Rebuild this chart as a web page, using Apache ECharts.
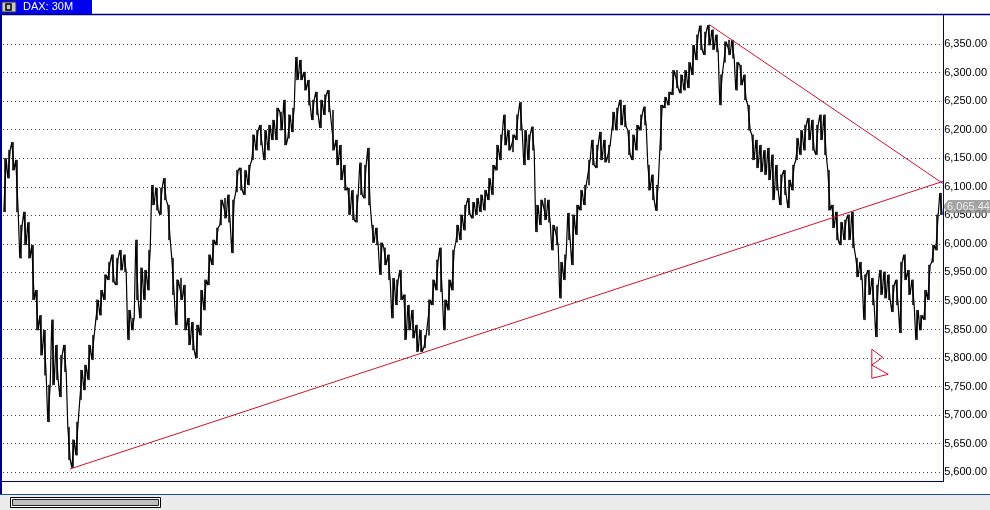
<!DOCTYPE html>
<html><head><meta charset="utf-8">
<script src="https://cdn.jsdelivr.net/npm/echarts@6/dist/echarts.min.js"></script>
<style>html,body{margin:0;padding:0;background:#fff}#c{width:990px;height:510px}</style>
</head><body><div id="c"></div>
<script>
const chartTitle = 'DAX: 30M';
const highs = [6150,6164,6178,6147,6033,6056,6038,5998,5919,5875,5849,5753,5867,5823,5805,5823,5679,5657,5688,5779,
5788,5823,5840,5902,5919,5946,5968,5981,5975,5989,5981,5884,5870,6007,5958,5954,5989,6103,6098,6098,
6115,6068,5975,5937,5940,5928,5870,5863,5858,5919,5937,5981,6007,6028,6077,6080,6086,6077,6129,6133,
6129,6138,6191,6199,6208,6199,6208,6217,6238,6231,6252,6226,6238,6327,6322,6301,6287,6252,6266,6252,
6261,6269,6234,6182,6173,6138,6098,6094,6086,6142,6138,6168,6033,6028,6002,5993,5981,5940,5937,5954,
5911,5893,5884,5858,5849,5840,5902,5937,5972,5993,5902,5937,5989,6033,6051,6068,6080,6073,6080,6086,
6094,6115,6138,6173,6191,6226,6199,6191,6226,6248,6199,6191,6205,6068,6077,6080,6077,6033,6030,5968,
5981,6054,6051,6068,6094,6103,6147,6182,6173,6196,6182,6173,6231,6238,6252,6243,6199,6191,6208,6226,
6240,6138,6121,6103,6243,6257,6266,6304,6304,6296,6304,6318,6348,6366,6382,6371,6383,6375,6366,6296,
6354,6357,6357,6318,6313,6296,6243,6191,6182,6173,6164,6168,6156,6138,6121,6129,6112,6138,6185,6199,
6208,6220,6217,6208,6226,6226,6129,6068,6056,6038,6042,6051,6056,5975,5968,5946,5954,5940,5928,5954,
5951,5946,5928,5937,5968,5981,5954,5937,5884,5875,5919,5963,5998,6051,6089];
const lows = [6056,6115,6129,6056,5975,5998,5975,5902,5849,5805,5770,5688,5753,5762,5732,5776,5622,5608,5630,5727,
5744,5762,5797,5867,5875,5902,5937,5933,5928,5954,5951,5832,5849,5902,5870,5902,5919,6068,6059,6051,
6077,6007,5911,5858,5902,5849,5823,5814,5800,5840,5884,5928,5963,5998,6033,6045,6038,5984,6091,6094,
6086,6103,6147,6164,6173,6147,6164,6182,6182,6199,6173,6185,6196,6287,6287,6269,6243,6217,6226,6203,
6226,6231,6164,6138,6112,6094,6051,6042,6038,6086,6080,6068,6002,5998,5946,5963,5937,5870,5893,5902,
5832,5849,5835,5811,5811,5818,5840,5893,5919,5916,5849,5884,5919,6003,6007,6024,6051,6045,6051,6056,
6059,6077,6086,6129,6147,6173,6164,6161,6182,6199,6138,6147,6164,6021,6033,6042,6038,5989,5998,5905,
5937,6007,5963,6016,6059,6068,6103,6138,6133,6147,6143,6142,6199,6199,6208,6205,6156,6147,6164,6199,
6208,6094,6077,6058,6164,6238,6243,6261,6273,6264,6269,6273,6296,6322,6340,6331,6348,6340,6336,6243,
6318,6331,6325,6269,6278,6252,6199,6147,6133,6126,6121,6112,6077,6094,6068,6086,6063,6094,6147,6156,
6164,6182,6164,6156,6182,6156,6059,6028,6007,5998,6007,6007,5993,5942,5937,5867,5911,5893,5837,5911,
5905,5902,5881,5893,5844,5937,5911,5893,5832,5849,5867,5902,5968,5989,6051];
const lastPrice = 6065.44;
const tickMin = 5600, tickMax = 6350, tickStep = 50;
const supportLine = [[16.25, 5605.8], [234.5, 6109.5]];
const resistLine = [[176.1, 6383.8], [241.25, 6073.5]];
const bMarker = [[216.7, 5815.4], [219.4, 5801.4], [216.7, 5787.9], [220.8, 5771.6], [216.7, 5764.6], [216.7, 5815.4]];

const categories = highs.map((_, i) => String(i));
const ohlc = highs.map((h, i) => [lows[i], h, lows[i], h]);
// zig-zag trace through each bar's high and low (order chosen toward the next bar)
const trace = [];
highs.forEach((h, i) => {
  const l = lows[i];
  const nextMid = i < highs.length - 1 ? (highs[i + 1] + lows[i + 1]) / 2 : lastPrice;
  const up = nextMid > (h + l) / 2;
  trace.push([i - 0.3, up ? l : h], [i + 0.3, up ? h : l]);
});
const fmt = v => Number(v).toLocaleString('en-US', {minimumFractionDigits: 2, maximumFractionDigits: 2});
const RED = '#d4102c';
const NAVY = '#000080';

const chart = echarts.init(document.getElementById('c'), null, {renderer: 'canvas'});
chart.setOption({
  animation: false,
  backgroundColor: '#fff',
  title: {text: chartTitle, left: 23, top: 1.5, padding: 0,
    textStyle: {color: '#fff', fontSize: 11, fontWeight: 'normal', fontFamily: 'Liberation Sans'}},
  grid: [
    {left: 3, right: 47, top: 15, bottom: 29},
    {left: 3, right: 47, top: 44, bottom: 37.7}
  ],
  xAxis: [
    {type: 'category', gridIndex: 0, data: categories, boundaryGap: true, show: false},
    {type: 'value', gridIndex: 0, min: -0.5, max: highs.length - 0.5, show: false},
    {type: 'value', gridIndex: 1, min: 0, max: 1, show: false}
  ],
  yAxis: [
    {type: 'value', gridIndex: 0, min: 5584.77, max: 6400.78, show: false},
    {type: 'value', gridIndex: 1, position: 'right', min: tickMin, max: tickMax, interval: tickStep,
      axisLine: {show: false}, axisTick: {show: false},
      axisLabel: {color: '#000', fontSize: 11, fontFamily: 'Liberation Sans', margin: 4, formatter: v => fmt(v)},
      splitLine: {show: true, lineStyle: {color: '#444', width: 1, type: [1, 3]}}}
  ],
  series: [
    {type: 'candlestick', xAxisIndex: 0, yAxisIndex: 0, data: ohlc, barWidth: 2,
      itemStyle: {color: '#000', color0: '#000', borderColor: '#000', borderColor0: '#000', borderWidth: 0.5}},
    {type: 'line', xAxisIndex: 1, yAxisIndex: 0, data: trace, symbol: 'none',
      lineStyle: {color: '#000', width: 1.2}, z: 3},
    {type: 'line', xAxisIndex: 1, yAxisIndex: 0, data: supportLine, symbol: 'none', clip: false,
      lineStyle: {color: RED, width: 1}, z: 5},
    {type: 'line', xAxisIndex: 1, yAxisIndex: 0, data: resistLine, symbol: 'none', clip: false,
      lineStyle: {color: RED, width: 1}, z: 5},
    {type: 'line', xAxisIndex: 1, yAxisIndex: 0, data: bMarker, symbol: 'none', clip: false,
      lineStyle: {color: RED, width: 1}, z: 5},
    {type: 'scatter', xAxisIndex: 1, yAxisIndex: 0, data: [[highs.length - 0.5, lastPrice]], clip: false, z: 10,
      symbol: 'path://M0,6.5 L5,0 L47,0 L47,13 L5,13 Z', symbolKeepAspect: false, symbolSize: [47, 13], symbolOffset: [23.5, 0],
      itemStyle: {color: '#8c8c8c'},
      label: {show: true, position: 'inside', offset: [2, 0], color: '#fff', fontSize: 11, fontFamily: 'Liberation Sans',
        formatter: p => fmt(p.value[1])}}
  ],
  graphic: [
    {type: 'rect', shape: {x: 0, y: 0, width: 92, height: 14}, style: {fill: '#0000ee'}, z: 1},
    {type: 'rect', shape: {x: 2, y: 2, width: 14, height: 10}, style: {fill: '#c8c8c8', stroke: '#303030', lineWidth: 1}, z: 2},
    {type: 'rect', shape: {x: 6, y: 4, width: 5, height: 6}, style: {fill: 'none', stroke: '#000', lineWidth: 1.5}, z: 3},
    {type: 'line', shape: {x1: 0, y1: 14.5, x2: 990, y2: 14.5}, style: {stroke: NAVY, lineWidth: 1.5}, z: 50},
    {type: 'line', shape: {x1: 1, y1: 14, x2: 1, y2: 495}, style: {stroke: NAVY, lineWidth: 2}, z: 50},
    {type: 'line', shape: {x1: 943.5, y1: 14, x2: 943.5, y2: 482}, style: {stroke: NAVY, lineWidth: 1}, z: 50},
    {type: 'line', shape: {x1: 0, y1: 481.5, x2: 944, y2: 481.5}, style: {stroke: NAVY, lineWidth: 1}, z: 50},
    {type: 'rect', shape: {x: 0, y: 495, width: 990, height: 15}, style: {fill: '#ececec'}, z: 40},
    {type: 'line', shape: {x1: 0, y1: 494.5, x2: 990, y2: 494.5}, style: {stroke: '#2050a0', lineWidth: 1}, z: 50},
    {type: 'rect', shape: {x: 10.5, y: 497.5, width: 150, height: 10}, style: {fill: '#fff', stroke: '#000', lineWidth: 1}, z: 51},
    {type: 'rect', shape: {x: 12.5, y: 499.5, width: 146, height: 6}, style: {fill: '#c0c0c0', stroke: '#222', lineWidth: 1}, z: 52}
  ]
});
</script></body></html>
